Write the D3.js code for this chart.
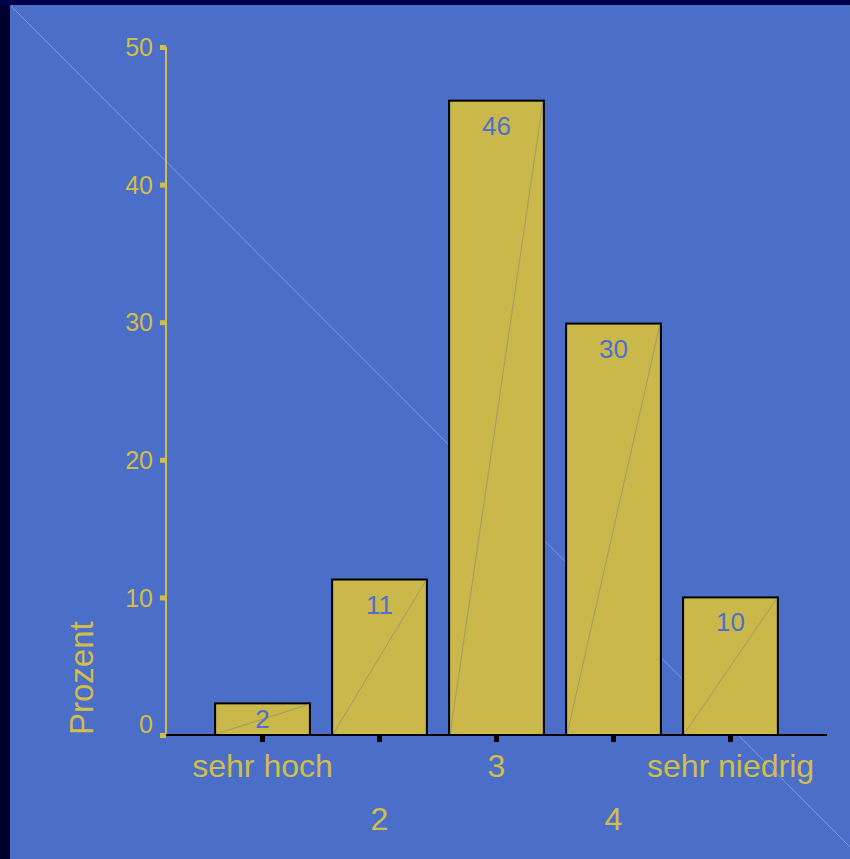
<!DOCTYPE html>
<html>
<head>
<meta charset="utf-8">
<script src="https://cdn.jsdelivr.net/npm/d3@7"></script>
<style>
  html, body { margin: 0; padding: 0; background: #00002e; }
  svg { display: block; }
  text { font-family: "Liberation Sans", Arial, sans-serif; }
</style>
</head>
<body>
<svg id="chart" width="850" height="859"></svg>
<script>
const categories = ["sehr hoch", "2", "3", "4", "sehr niedrig"];
const values = [2.3, 11.3, 46.1, 29.9, 10.0];
const valueLabels = ["2", "11", "46", "30", "10"];
const yTicks = [0, 10, 20, 30, 40, 50];
const yTitle = "Prozent";

const W = 850, H = 859;
const bg = "#4b6fc8", gold = "#cbb84b", textGold = "#d2bd4a";
const svg = d3.select("#chart");

// frame
svg.append("rect").attr("x", 0).attr("y", 0).attr("width", W).attr("height", H).attr("fill", "#00002e");
svg.append("rect").attr("x", 0).attr("y", 0).attr("width", W).attr("height", 5).attr("fill", "#000048");
svg.append("rect").attr("x", 10).attr("y", 5).attr("width", W - 10).attr("height", H - 5).attr("fill", bg);
svg.append("line").attr("x1", 11).attr("y1", 6).attr("x2", 850).attr("y2", 847)
  .attr("stroke", "#9fb2e6").attr("stroke-width", 1).attr("opacity", 0.6);

const plotLeft = 166, plotRight = 827, plotTop = 47, plotBottom = 735;
const x = d3.scaleBand().domain(categories).range([plotLeft, plotRight]).paddingInner(0.19).paddingOuter(0.42);
const y = d3.scaleLinear().domain([0, 50]).range([plotBottom, plotTop]);

// bars
const g = svg.append("g");
g.selectAll("rect.bar").data(values).join("rect")
  .attr("class", "bar")
  .attr("x", (d, i) => x(categories[i]))
  .attr("y", d => y(d))
  .attr("width", x.bandwidth())
  .attr("height", d => y(0) - y(d))
  .attr("fill", gold)
  .attr("stroke", "#000").attr("stroke-width", 2);
g.selectAll("line.diag").data(values).join("line")
  .attr("class", "diag")
  .attr("x1", (d, i) => x(categories[i]) + 1)
  .attr("y1", y(0) - 1)
  .attr("x2", (d, i) => x(categories[i]) + x.bandwidth() - 1)
  .attr("y2", d => y(d) + 1)
  .attr("stroke", "#8e8a7a").attr("stroke-width", 0.8).attr("opacity", 0.8);
g.selectAll("text.val").data(values).join("text")
  .attr("class", "val")
  .attr("x", (d, i) => x(categories[i]) + x.bandwidth() / 2)
  .attr("y", d => Math.min(y(d) + 34, y(0) - 7))
  .attr("text-anchor", "middle")
  .attr("font-size", 26)
  .attr("fill", "#4d70cc")
  .text((d, i) => valueLabels[i]);

// y axis
const yAxis = svg.append("g").attr("transform", `translate(${plotLeft},0)`)
  .call(d3.axisLeft(y).tickValues(yTicks).tickSize(6).tickPadding(8));
yAxis.select(".domain").attr("stroke", textGold).attr("stroke-width", 2)
  .attr("d", `M0,${plotTop}V${plotBottom}`);
yAxis.selectAll(".tick line").attr("stroke", textGold).attr("stroke-width", 5);
yAxis.selectAll(".tick text").attr("fill", textGold).attr("font-size", 25)
  .attr("font-family", "'Liberation Sans', Arial, sans-serif")
  .attr("x", -13)
  .attr("dy", d => d === 0 ? "-0.1em" : "0.35em");

// x axis
svg.append("line").attr("x1", plotLeft).attr("x2", plotRight).attr("y1", plotBottom).attr("y2", plotBottom)
  .attr("stroke", "#000").attr("stroke-width", 2);
const xAxis = svg.append("g").attr("transform", `translate(0,${plotBottom})`)
  .call(d3.axisBottom(x).tickSize(7).tickPadding(0));
xAxis.select(".domain").remove();
xAxis.selectAll(".tick line").attr("stroke", "#000").attr("stroke-width", 5);
xAxis.selectAll(".tick text").attr("fill", textGold).attr("font-size", 32)
  .attr("font-family", "'Liberation Sans', Arial, sans-serif")
  .attr("dy", null)
  .attr("y", (d, i) => i % 2 === 0 ? 42 : 95);

// y title
svg.append("text")
  .attr("transform", `translate(93,${plotBottom}) rotate(-90)`)
  .attr("text-anchor", "start")
  .attr("font-size", 33)
  .attr("fill", textGold)
  .text(yTitle);
</script>
</body>
</html>
